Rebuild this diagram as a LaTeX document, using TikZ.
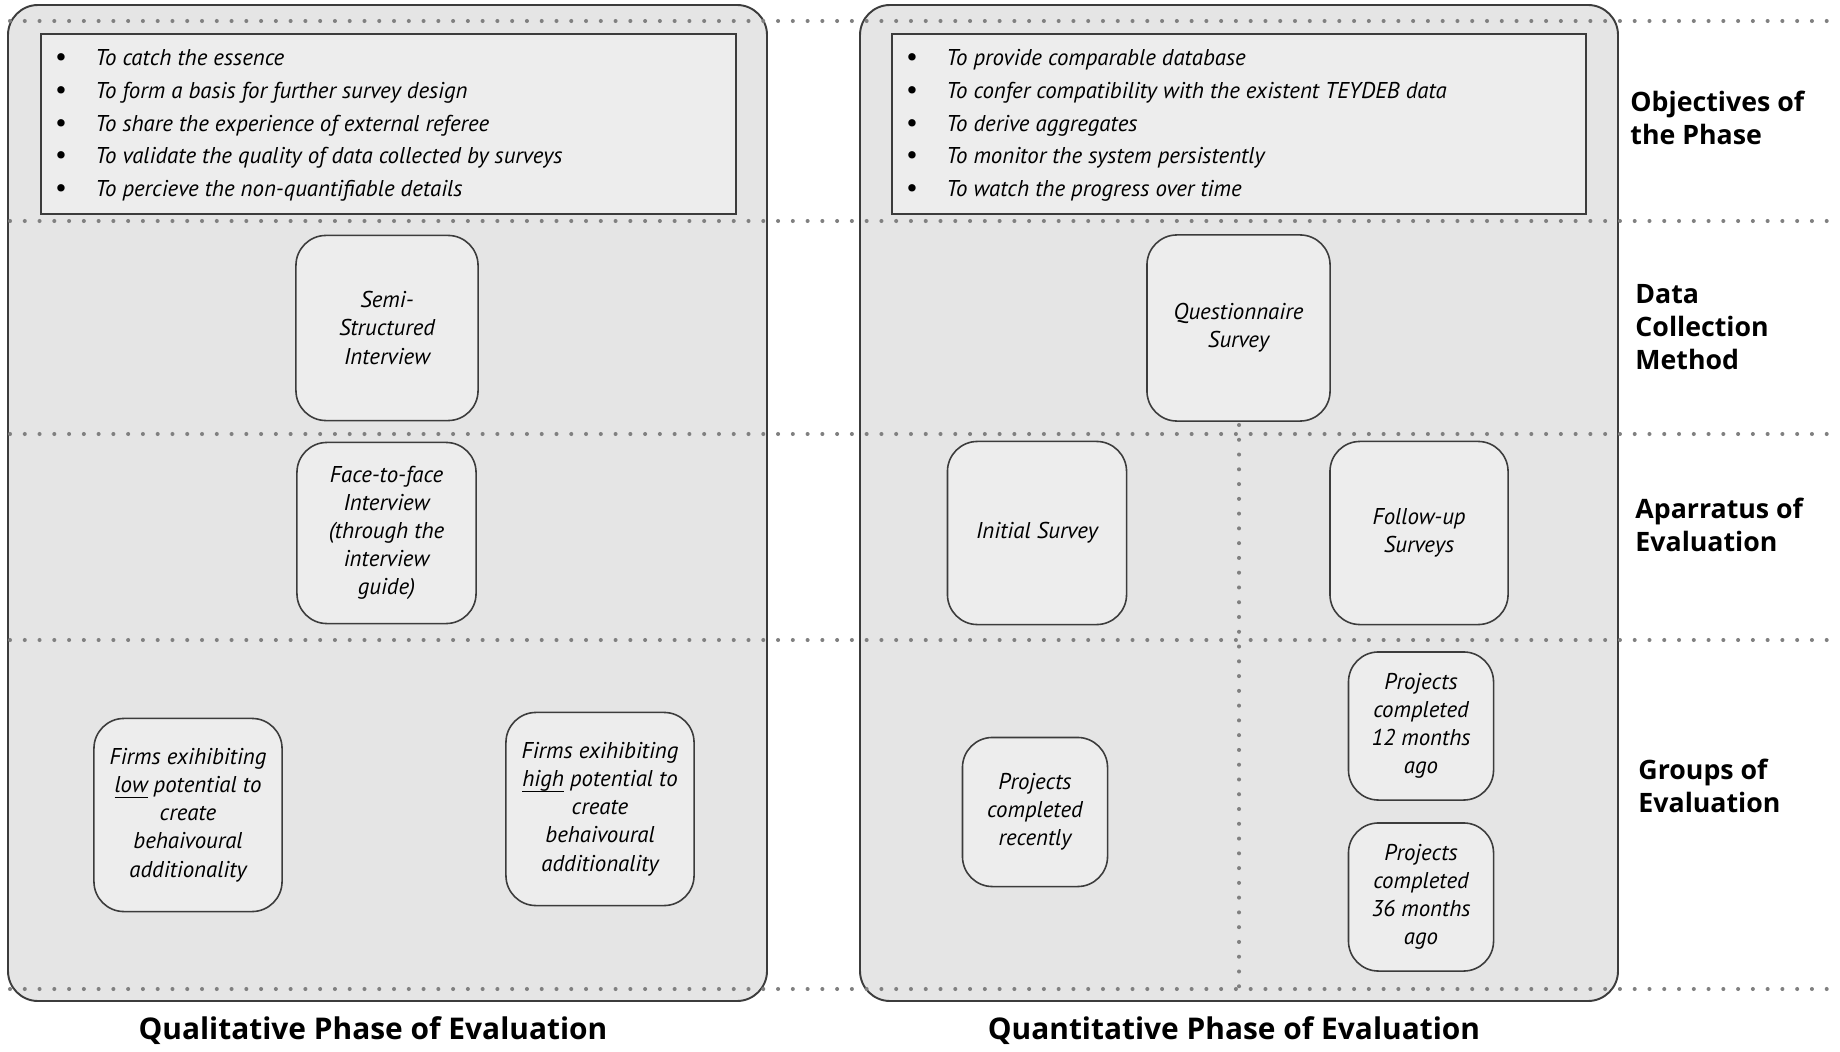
\documentclass[tikz,border=0pt]{standalone}
\usepackage{fontspec}
\setmainfont{PT Sans}
\newfontfamily\headfont{Open Sans}
\usepackage{tikz}
\definecolor{qpanel}{RGB}{229,229,229}
\definecolor{qbox}{RGB}{237,237,237}
\definecolor{qedge}{RGB}{60,60,60}
\definecolor{qdot}{RGB}{128,128,128}
\tikzset{
  phasebox/.style={draw=qedge, fill=qbox, rounded corners=0.3cm, line width=0.45pt, align=center, inner sep=2pt, font=\fontsize{6.5}{8}\selectfont\itshape},
  rowline/.style={qdot, line width=1.15pt, line cap=round, dash pattern=on 0pt off 4.2pt},
  rowlabel/.style={anchor=west, align=left, font=\headfont\bfseries\fontsize{7.6}{9.4}\selectfont},
  listtext/.style={anchor=base west, font=\fontsize{6.5}{8}\selectfont\itshape},
}

\begin{document}
\begin{tikzpicture}[x=0.01cm, y=-0.01cm]
\useasboundingbox (0,0) rectangle (1840,1052);
% the two phases
\draw[qedge, fill=qpanel, rounded corners=0.3cm, line width=0.55pt] (8,5) rectangle (767,1001);
\draw[qedge, fill=qpanel, rounded corners=0.3cm, line width=0.55pt] (860,5) rectangle (1618,1001);
\foreach \y in {21,221,434,640,989} { \draw[rowline] (10,\y) -- (1840,\y); }
\draw[rowline] (1239,425) -- (1239,989);
% objectives
\node[draw=qedge, fill=qbox, line width=0.45pt, minimum width=6.95cm, minimum height=1.8cm, inner sep=0] (qualobj) at (388.5,124) {};
\node[draw=qedge, fill=qbox, line width=0.45pt, minimum width=6.94cm, minimum height=1.8cm, inner sep=0] (quantobj) at (1239,124) {};
\foreach \t [count=\i] in {To catch the essence, To form a basis for further survey design, To share the experience of external referee, To validate the quality of data collected by surveys, To percieve the non-quantifiable details} {
  \node[anchor=base, font=\fontsize{7.5}{8}\selectfont] (qualbul\i) at (61,{66+32.6*(\i-1)}) {\textbullet};
  \node[listtext] (qualitem\i) at (83,{66+32.6*(\i-1)}) {\t};
}
\foreach \t [count=\i] in {To provide comparable database, To confer compatibility with the existent TEYDEB data, To derive aggregates, To monitor the system persistently, To watch the progress over time} {
  \node[anchor=base, font=\fontsize{7.5}{8}\selectfont] (quantbul\i) at (912,{66+32.6*(\i-1)}) {\textbullet};
  \node[listtext] (quantitem\i) at (934,{66+32.6*(\i-1)}) {\t};
}
% qualitative phase
\node[phasebox, minimum width=1.82cm, minimum height=1.85cm] (semi) at (387,328) {Semi-\\Structured\\Interview};
\node[phasebox, minimum width=1.79cm, minimum height=1.81cm] (face) at (386.5,533) {Face-to-face\\Interview\\(through the\\interview\\guide)};
\node[phasebox, minimum width=1.88cm, minimum height=1.93cm] (firmslow) at (188,815) {Firms exihibiting\\\underline{\smash{low}} potential to\\create\\behaivoural\\additionality};
\node[phasebox, minimum width=1.88cm, minimum height=1.93cm] (firmshigh) at (600,809) {Firms exihibiting\\\underline{\smash{high}} potential to\\create\\behaivoural\\additionality};
% quantitative phase
\node[phasebox, minimum width=1.83cm, minimum height=1.86cm] (quest) at (1238.5,328) {Questionnaire\\Survey};
\node[phasebox, minimum width=1.79cm, minimum height=1.83cm] (initial) at (1037,533) {Initial Survey};
\node[phasebox, minimum width=1.78cm, minimum height=1.83cm] (followup) at (1419,533) {Follow-up\\Surveys};
\node[phasebox, minimum width=1.45cm, minimum height=1.49cm] (recent) at (1035,812) {Projects\\completed\\recently};
\node[phasebox, minimum width=1.45cm, minimum height=1.48cm] (twelve) at (1421,726) {Projects\\completed\\12 months\\ago};
\node[phasebox, minimum width=1.45cm, minimum height=1.48cm] (thirtysix) at (1421,897) {Projects\\completed\\36 months\\ago};
% row labels
\node[rowlabel] (objlabel) at (1618,118) {Objectives of\\the Phase};
\node[rowlabel] (datalabel) at (1623,327) {Data\\Collection\\Method};
\node[rowlabel] (applabel) at (1623,525) {Aparratus of\\Evaluation};
\node[rowlabel] (grouplabel) at (1626,786) {Groups of\\Evaluation};
% titles
\node[font=\headfont\bfseries\fontsize{8.5}{10}\selectfont] (qualtitle) at (373,1031) {Qualitative Phase of Evaluation};
\node[font=\headfont\bfseries\fontsize{8.5}{10}\selectfont] (quanttitle) at (1234,1031) {Quantitative Phase of Evaluation};
\end{tikzpicture}
\end{document}
